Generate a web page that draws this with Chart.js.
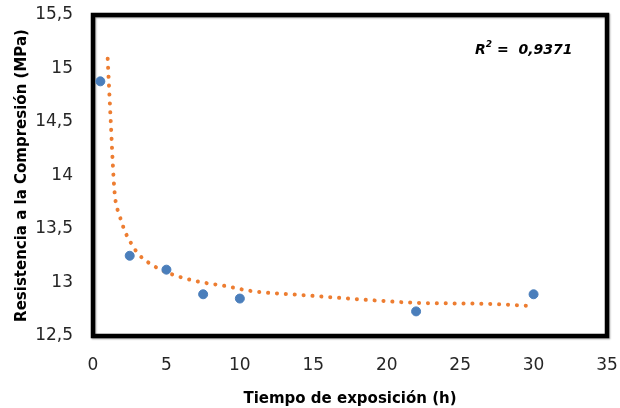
<!DOCTYPE html>
<html>
<head>
<meta charset="utf-8">
<script src="https://cdn.jsdelivr.net/npm/chart.js@4"></script>
<style>
  html, body { margin: 0; padding: 0; background: #fff; }
  #wrap { width: 620px; height: 408px; }
</style>
</head>
<body>
<div id="wrap"><canvas id="compChart"></canvas></div>
<script>
// measured data (hours, MPa)
const hours = [0.5, 2.5, 5, 7.5, 10, 22, 30];
const strength = [14.88, 13.25, 13.12, 12.89, 12.85, 12.73, 12.89];

// trendline
const trendHours = [1.0, 1.2, 1.4, 1.5, 1.8, 2.2, 2.5, 2.8, 3.2, 4.2, 5.3, 7.1, 8.9, 10.8, 14.5, 19.5, 22, 27, 30];
const trendStrength = [15.09, 14.53, 13.98, 13.80, 13.63, 13.47, 13.39, 13.32, 13.25, 13.15, 13.08, 13.01, 12.97, 12.92, 12.88, 12.83, 12.81, 12.80, 12.78];

const xTicks = [0, 5, 10, 15, 20, 25, 30, 35];
const yTickLabels = ['12,5', '13', '13,5', '14', '14,5', '15', '15,5'];
const rSquared = '0,9371';

const fontFamily = "'DejaVu Sans', sans-serif";

// thick black frame round the plot area + the R² label
const plotFrame = {
    id: 'plotFrame',
    beforeDatasetsDraw(chart) {
        const { ctx, chartArea: a } = chart;
        ctx.save();
        ctx.shadowColor = 'rgba(0,0,0,0.35)';
        ctx.shadowOffsetX = 1;
        ctx.shadowOffsetY = 1;
        ctx.shadowBlur = 1.5;
        ctx.strokeStyle = '#000';
        ctx.lineWidth = 4.5;
        ctx.strokeRect(a.left, a.top, a.right - a.left, a.bottom - a.top);
        ctx.restore();
    },
    afterDatasetsDraw(chart) {
        const { ctx, chartArea: a } = chart;
        ctx.save();
        ctx.fillStyle = '#000';
        ctx.textBaseline = 'middle';
        ctx.textAlign = 'left';
        let x = a.right - 132;
        const y = a.top + 35;
        ctx.font = "italic bold 14px " + fontFamily;
        ctx.fillText('R', x, y);
        x += ctx.measureText('R').width;
        ctx.font = "italic bold 9px " + fontFamily;
        ctx.fillText('2', x, y - 5);
        x += ctx.measureText('2').width;
        ctx.font = "italic bold 14px " + fontFamily;
        ctx.fillText(' =  ' + rSquared, x, y);
        ctx.restore();
    }
};

const ctx = document.getElementById('compChart').getContext('2d');
const compChart = new Chart(ctx, {
    type: 'scatter',
    data: {
        datasets: [{
            label: 'Resistencia',
            data: hours.map((h, i) => ({ x: h, y: strength[i] })),
            backgroundColor: '#4A7EBB',
            borderColor: '#4A7EBB',
            pointRadius: 4.5,
            pointHoverRadius: 4.5,
            order: 1
        }, {
            label: 'Tendencia',
            type: 'line',
            data: trendHours.map((h, i) => ({ x: h, y: trendStrength[i] })),
            borderColor: '#ED7D31',
            borderWidth: 4,
            borderDash: [0.1, 8.8],
            borderCapStyle: 'round',
            pointRadius: 0,
            tension: 0.4,
            cubicInterpolationMode: 'monotone',
            fill: false,
            order: 2
        }]
    },
    options: {
        responsive: true,
        maintainAspectRatio: false,
        animation: false,
        layout: { padding: { top: 15, right: 13, left: 0, bottom: 0 } },
        plugins: {
            legend: { display: false },
            tooltip: { enabled: false }
        },
        scales: {
            x: {
                type: 'linear',
                min: 0,
                max: 35,
                afterBuildTicks: axis => { axis.ticks = xTicks.map(v => ({ value: v })); },
                grid: { display: false, drawTicks: false },
                border: { display: false },
                ticks: {
                    padding: 19,
                    color: '#262626',
                    font: { family: fontFamily, size: 17 }
                },
                title: {
                    display: true,
                    text: 'Tiempo de exposición (h)',
                    color: '#000',
                    padding: { top: 6, bottom: 0 },
                    font: { family: fontFamily, size: 15, weight: 'bold' }
                },
                afterFit: axis => {
                    axis.height = 72;
                    axis.paddingLeft = 0;
                    axis.paddingRight = 0;
                }
            },
            y: {
                min: 12.5,
                max: 15.5,
                grid: { display: false, drawTicks: false },
                border: { display: false },
                ticks: {
                    stepSize: 0.5,
                    padding: 20,
                    color: '#262626',
                    font: { family: fontFamily, size: 17 },
                    callback: (v, i) => yTickLabels[i]
                },
                title: {
                    display: true,
                    text: 'Resistencia a la Compresión (MPa)',
                    color: '#000',
                    padding: { top: 13, bottom: 0 },
                    font: { family: fontFamily, size: 15, weight: 'bold' }
                },
                afterFit: axis => {
                    axis.width = 93;
                    axis.paddingTop = 0;
                    axis.paddingBottom = 0;
                }
            }
        }
    },
    plugins: [plotFrame]
});
</script>
</body>
</html>
